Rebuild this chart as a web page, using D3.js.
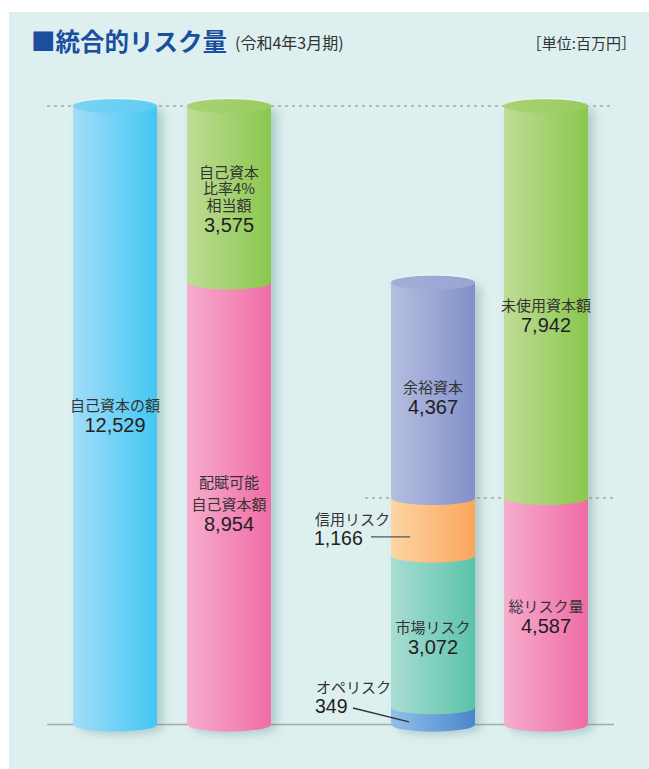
<!DOCTYPE html>
<html><head><meta charset="utf-8">
<script src="https://cdn.jsdelivr.net/npm/d3@7"></script>
<style>
html,body{margin:0;padding:0;background:#fff;}
svg{display:block;}
</style></head>
<body>
<svg id="chart" width="649" height="769"></svg>
<script>
// ---- data ----
const title = "■統合的リスク量";
const subtitle = "(令和4年3月期)";
const unitLabel = "［単位:百万円］";
const barNames = ["自己資本の額", "配賦可能自己資本", "統合的リスク量", "資本配賦"];
// stacked segments, bottom to top
const bar1Segments = [{name: "自己資本の額", value: 12529, color: "blue"}];
const bar2Segments = [
  {name: "配賦可能|自己資本額", value: 8954, color: "pink"},
  {name: "自己資本|比率4%|相当額", value: 3575, color: "green"}
];
const bar3Segments = [
  {name: "オペリスク", value: 349, color: "opblue"},
  {name: "市場リスク", value: 3072, color: "teal"},
  {name: "信用リスク", value: 1166, color: "orange"},
  {name: "余裕資本", value: 4367, color: "purple"}
];
const bar4Segments = [
  {name: "総リスク量", value: 4587, color: "pink"},
  {name: "未使用資本額", value: 7942, color: "green"}
];
const bars = [bar1Segments, bar2Segments, bar3Segments, bar4Segments];
const yMax = 12529;

// ---- styles ----
const palette = {
  blue:   {l: "#A3DDF8", r: "#42C7F2", cap: "#5FCCF3"},
  green:  {l: "#C0DC96", r: "#8AC74E", cap: "#99CC5E"},
  pink:   {l: "#F6ADCD", r: "#F06CA5", cap: "#F08AB8"},
  purple: {l: "#B6BEE0", r: "#8290C8", cap: "#9AA3D3"},
  orange: {l: "#FDD5A3", r: "#FAA55C", cap: "#FBB878"},
  teal:   {l: "#A9DDD2", r: "#5BC3AB", cap: "#7ACDB9"},
  opblue: {l: "#92C0EA", r: "#4B86CB", cap: "#6FA2DA"}
};
const numFont = "'Liberation Sans', Arial, sans-serif";
const jpFont = "'Noto Sans CJK JP', sans-serif";

const svg = d3.select("#chart");
const defs = svg.append("defs");
Object.entries(palette).forEach(([k, c]) => {
  const g = defs.append("linearGradient").attr("id", "g-" + k)
    .attr("x1", "0%").attr("x2", "100%").attr("y1", "0%").attr("y2", "0%");
  g.append("stop").attr("offset", "0%").attr("stop-color", c.l);
  g.append("stop").attr("offset", "100%").attr("stop-color", c.r);
  const gc = defs.append("linearGradient").attr("id", "c-" + k)
    .attr("x1", "0%").attr("x2", "100%").attr("y1", "0%").attr("y2", "0%");
  gc.append("stop").attr("offset", "0%").attr("stop-color", d3.interpolateRgb(c.l, c.cap)(0.6));
  gc.append("stop").attr("offset", "100%").attr("stop-color", c.cap);
});
const f = defs.append("filter").attr("id", "shadow")
  .attr("x", "-30%").attr("y", "-10%").attr("width", "170%").attr("height", "120%");
f.append("feGaussianBlur").attr("in", "SourceAlpha").attr("stdDeviation", 5).attr("result", "b");
f.append("feOffset").attr("in", "b").attr("dx", 6).attr("dy", 3).attr("result", "o");
f.append("feFlood").attr("flood-color", "#4d7f80").attr("flood-opacity", 0.32);
f.append("feComposite").attr("in2", "o").attr("operator", "in");

// background panel
svg.append("rect").attr("x", 9).attr("y", 12).attr("width", 640).attr("height", 757).attr("fill", "#DDF0EF");

// title
svg.append("text").attr("x", 31).attr("y", 51).attr("font-family", jpFont)
  .attr("font-size", 24.5).attr("font-weight", "bold").attr("fill", "#1B4E9E").text(title);
svg.append("text").attr("x", 235).attr("y", 49).attr("font-family", jpFont)
  .attr("font-size", 16).attr("fill", "#333").text(subtitle);
svg.append("text").attr("x", 636).attr("y", 49).attr("text-anchor", "end").attr("font-family", jpFont)
  .attr("font-size", 15).attr("fill", "#333").text(unitLabel);

// scales
const y = d3.scaleLinear().domain([0, yMax]).range([724.5, 106]);
const barW = 84, rx = 42, ry = 7;
const barLeft = [73, 187, 391, 504];

// gridlines
svg.append("line").attr("x1", 47).attr("x2", 614).attr("y1", y(yMax)).attr("y2", y(yMax))
  .attr("stroke", "#A8A8A8").attr("stroke-width", 1.6).attr("stroke-dasharray", "3,4");
const riskTotal = d3.sum(bar4Segments.slice(0, 1), d => d.value);
svg.append("line").attr("x1", 365).attr("x2", 614).attr("y1", y(riskTotal)).attr("y2", y(riskTotal))
  .attr("stroke", "#A8A8A8").attr("stroke-width", 1.6).attr("stroke-dasharray", "3,4");
svg.append("line").attr("x1", 47).attr("x2", 614).attr("y1", y(0)).attr("y2", y(0))
  .attr("stroke", "#A9A9A9").attr("stroke-width", 1.6);

function segPath(x0, yt, yb) {
  return `M${x0},${yt}L${x0},${yb}A${rx},${ry} 0 0 0 ${x0 + barW},${yb}L${x0 + barW},${yt}Z`;
}

// label vertical tweaks (layout only)
const labelShift = [[0], [0, 4], [0, 6, 0, 7], [5, 13]];

bars.forEach((segs, bi) => {
  const x0 = barLeft[bi];
  const total = d3.sum(segs, d => d.value);
  svg.append("path").attr("d", segPath(x0, y(total), y(0)))
    .attr("fill", "#000").attr("filter", "url(#shadow)");
  const g = svg.append("g");
  let cum = 0;
  const stacked = segs.map(s => { const o = {...s, y0: cum, y1: cum + s.value}; cum += s.value; return o; });
  stacked.forEach(s => {
    g.append("path").attr("d", segPath(x0, y(s.y1), y(s.y0)))
      .attr("fill", `url(#g-${s.color})`);
  });
  const top = stacked[stacked.length - 1];
  g.append("ellipse").attr("cx", x0 + rx).attr("cy", y(total)).attr("rx", rx).attr("ry", ry)
    .attr("fill", `url(#c-${top.color})`);
  g.append("path")
    .attr("d", `M${x0 + 4},${y(total) - 2.5}A${rx - 4},${ry - 2} 0 0 1 ${x0 + barW - 4},${y(total) - 2.5}`)
    .attr("fill", "none").attr("stroke", "#fff").attr("stroke-opacity", 0.35).attr("stroke-width", 1.5);

  stacked.forEach((s, si) => {
    if (s.color === "orange" || s.color === "opblue") return;
    const lines = s.name.split("|");
    const n = lines.length;
    const sp = (s.name.startsWith("配賦")) ? 22 : 16.5;
    const mid = (y(s.y0) + y(s.y1)) / 2;
    const b0 = mid - 4 - (n - 1) * sp / 2 + labelShift[bi][si];
    const cx = x0 + rx;
    lines.forEach((t, li) => {
      g.append("text").attr("x", cx).attr("y", b0 + li * sp).attr("text-anchor", "middle")
        .attr("font-family", jpFont).attr("font-size", 15).attr("fill", "#333").text(t);
    });
    g.append("text").attr("x", cx).attr("y", b0 + (n - 1) * sp + 21).attr("text-anchor", "middle")
      .attr("font-family", numFont).attr("font-size", 20).attr("fill", "#231F20")
      .text(d3.format(",")(s.value));
  });
});

// callouts for small segments of bar 3
const b3 = barLeft[2];
const credit = bar3Segments[2], op = bar3Segments[0];
const creditMid = (y(op.value + bar3Segments[1].value) + y(op.value + bar3Segments[1].value + credit.value)) / 2;
svg.append("text").attr("x", 315).attr("y", 525).attr("font-family", jpFont).attr("font-size", 15)
  .attr("fill", "#333").text(credit.name);
svg.append("text").attr("x", 314).attr("y", 545).attr("font-family", numFont).attr("font-size", 19.5)
  .attr("fill", "#231F20").text(d3.format(",")(credit.value));
svg.append("line").attr("x1", 371).attr("x2", b3 + 19).attr("y1", creditMid + 10).attr("y2", creditMid + 10)
  .attr("stroke", "#555").attr("stroke-width", 1.3);
svg.append("text").attr("x", 316).attr("y", 693).attr("font-family", jpFont).attr("font-size", 15)
  .attr("fill", "#333").text(op.name);
svg.append("text").attr("x", 315).attr("y", 713).attr("font-family", numFont).attr("font-size", 19.5)
  .attr("fill", "#231F20").text(d3.format(",")(op.value));
svg.append("line").attr("x1", 353).attr("y1", 708).attr("x2", b3 + 18).attr("y2", (y(0) + y(op.value)) / 2 + 6)
  .attr("stroke", "#333").attr("stroke-width", 1.3);
</script>
</body></html>
